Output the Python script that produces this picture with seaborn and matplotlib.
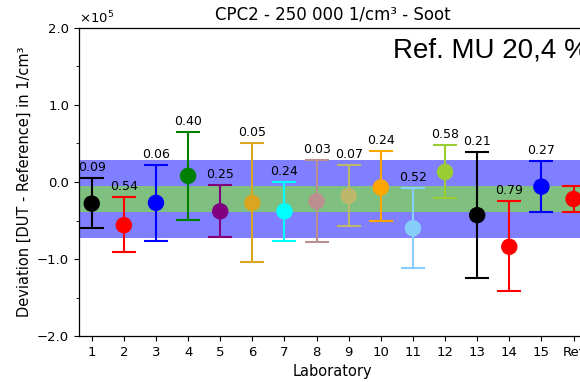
import numpy as np
import pandas as pd
import seaborn as sns
import matplotlib.pyplot as plt
from matplotlib.ticker import ScalarFormatter, MultipleLocator

# lab names, deviation from reference and error bar limits (in 1/cm3)
labs = ['1', '2', '3', '4', '5', '6', '7', '8', '9', '10', '11', '12', '13', '14', '15', 'Ref']
dev = [-0.28, -0.56, -0.27, 0.08, -0.38, -0.27, -0.38, -0.25, -0.18, -0.07,
       -0.60, 0.13, -0.43, -0.84, -0.06, -0.22]
upper = [0.05, -0.20, 0.22, 0.65, -0.04, 0.51, 0.00, 0.29, 0.22, 0.40,
         -0.08, 0.48, 0.39, -0.25, 0.27, -0.05]
lower = [-0.60, -0.91, -0.76, -0.49, -0.71, -1.04, -0.76, -0.78, -0.57, -0.51,
         -1.11, -0.21, -1.25, -1.42, -0.39, -0.39]
scores = ['0.09', '0.54', '0.06', '0.40', '0.25', '0.05', '0.24', '0.03', '0.07', '0.24',
          '0.52', '0.58', '0.21', '0.79', '0.27', '']
colors = ['black', 'red', 'blue', 'green', 'purple', 'goldenrod', 'cyan', 'rosybrown',
          'darkkhaki', 'orange', 'lightskyblue', 'yellowgreen', 'black', 'red', 'blue', 'red']

ref_mean = -0.22e5
ref_mu = 0.51e5      # 20,4 % of 250 000
ref_u = 0.163e5

scale = 1e5
df = pd.DataFrame({
    'pos': np.arange(1, len(labs) + 1),
    'lab': labs,
    'dev': np.array(dev) * scale,
    'upper': np.array(upper) * scale,
    'lower': np.array(lower) * scale,
})

sns.set_style('ticks', {'text.color': 'black', 'axes.labelcolor': 'black',
                        'xtick.color': 'black', 'ytick.color': 'black',
                        'axes.edgecolor': 'black'})
plt.rcParams['axes.linewidth'] = 0.9
fig = plt.figure(figsize=(5.8, 3.82), dpi=100)
ax = fig.add_axes([0.136, 0.12, 0.875, 0.807])

# uncertainty bands
ax.axhspan(ref_mean + ref_u, ref_mean + ref_mu, color='blue', alpha=0.5, lw=0)
ax.axhspan(ref_mean - ref_mu, ref_mean - ref_u, color='blue', alpha=0.5, lw=0)
ax.axhspan(ref_mean - ref_u, ref_mean + ref_u, color='green', alpha=0.5, lw=0)

for i, row in df.iterrows():
    ax.errorbar(row['pos'], row['dev'],
                yerr=[[row['dev'] - row['lower']], [row['upper'] - row['dev']]],
                fmt='none', ecolor=colors[i], capsize=8.5, elinewidth=1.5, capthick=1.5, zorder=3)
    if scores[i]:
        ax.annotate(scores[i], (row['pos'], row['upper']), xytext=(0, 3),
                    textcoords='offset points', ha='center', va='bottom', fontsize=9)

sns.scatterplot(data=df, x='pos', y='dev', hue='lab', palette=colors, s=140,
                edgecolor='none', legend=False, zorder=4, ax=ax)

ax.set_xlim(0.6, 16.4)
ax.set_ylim(-2e5, 2e5)
ax.set_xticks(df['pos'])
ax.set_xticklabels(labs)
ax.yaxis.set_major_locator(MultipleLocator(1e5))
ax.yaxis.set_minor_locator(MultipleLocator(0.5e5))


class OneDecimal(ScalarFormatter):
    def _set_format(self):
        self.format = '%1.1f'


fmt = OneDecimal(useMathText=True)
fmt.set_powerlimits((0, 0))
ax.yaxis.set_major_formatter(fmt)
ax.tick_params(labelsize=9.5)
ax.yaxis.get_offset_text().set_fontsize(9.5)

ax.set_title('CPC2 - 250 000 1/cm³ - Soot', fontsize=12)
ax.set_xlabel('Laboratory', fontsize=10.5)
ax.set_ylabel('Deviation [DUT - Reference] in 1/cm³', fontsize=10.5)
ax.text(0.619, 0.968, 'Ref. MU 20,4 %', transform=ax.transAxes, ha='left', va='top',
        fontsize=20, family='Liberation Sans')

fig.savefig('out.png', dpi=100)
